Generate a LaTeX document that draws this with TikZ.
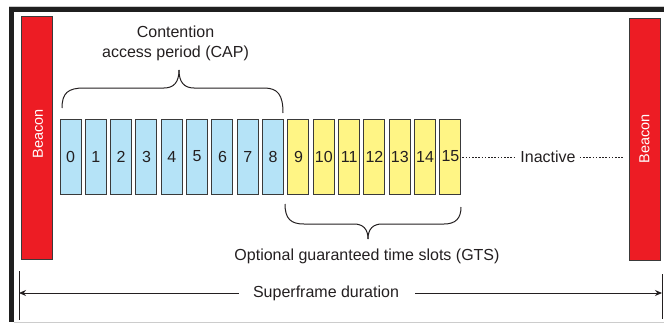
\documentclass[tikz,border=0pt]{standalone}
\usepackage{fontspec}
\setmainfont{Liberation Sans}
\usetikzlibrary{arrows.meta}
\definecolor{bred}{HTML}{ED1C24}
\definecolor{bblue}{HTML}{B5E3F7}
\definecolor{byel}{HTML}{FFF585}
\definecolor{edgec}{HTML}{3A3A3A}
\definecolor{ink}{HTML}{231F20}
\begin{document}
\begin{tikzpicture}[x=1pt,y=-1pt,
  font=\fontsize{16}{20}\selectfont, text=ink,
  beaconbox/.style={draw=edgec, line width=1pt, fill=bred, minimum width=31pt, minimum height=243pt, inner sep=0pt},
  beacontext/.style={rotate=90, text=white, font=\fontsize{14.5}{16}\selectfont, inner sep=0pt},
  slotbox/.style={draw=edgec, line width=1pt, minimum width=21pt, minimum height=75pt, inner sep=0pt},
  bracec/.style={draw=ink, line width=1pt},
  dotline/.style={draw=ink, line width=1pt, dash pattern=on 1.6pt off 1.6pt},
  dimline/.style={draw=ink, line width=1pt},
  dimarrow/.style={draw=ink, line width=1pt, -{Stealth[length=7pt,width=6pt]}}
]
\useasboundingbox (0,0) rectangle (664,324);
% frame
\fill[gray!40] (9,5.5) rectangle (664,7);
\fill[black!88] (9,7) rectangle (664,12);
\fill[black!88] (9,7) rectangle (14,322);
\fill[gray!40] (14,321.5) rectangle (664,323);
% beacons
\node[beaconbox] (b1) at (36.5,137.5) {};
\node[beacontext] (b1t) at (38,134) {Beacon};
\node[beaconbox, minimum height=242pt] (b2) at (644.5,139) {};
\node[beacontext] (b2t) at (644.5,139) {Beacon};
% slots
\foreach \i in {0,...,15}{
  \pgfmathsetmacro{\xc}{70.5+25.33*\i}
  \ifnum\i<9
    \node[slotbox, fill=bblue] (s\i) at (\xc,156.5) {\i};
  \else
    \node[slotbox, fill=byel] (s\i) at (\xc,156.5) {\i};
  \fi
}
% inactive
\node[inner sep=0pt] (inact) at (548,157) {Inactive};
\draw[dotline] ([xshift=1pt]s15.east |- inact.west) -- ([xshift=-4pt]inact.west);
\draw[dotline] ([xshift=4pt]inact.east) -- ([xshift=-4pt]b2.west |- inact.east);
% CAP brace
\node[align=center, inner sep=0pt] (cap) at (175.5,43) {Contention\\access period (CAP)};
\coordinate (capl) at (62,108);
\coordinate (capt) at (179,70);
\coordinate (capr) at (283,113);
\draw[bracec] (capl) .. controls (62,93) and (68,88) .. (84,88) -- (164,88) .. controls (174,88) and (179,82) .. (capt);
\draw[bracec] (capt) .. controls (179,82) and (184,88) .. (194,88) -- (264,88) .. controls (278,88) and (283,95) .. (capr);
% GTS brace
\node[inner sep=0pt] (gts) at (367,256) {Optional guaranteed time slots (GTS)};
\coordinate (gtsl) at (285,204);
\coordinate (gtst) at (368,239);
\coordinate (gtsr) at (461,207);
\draw[bracec] (gtsl) .. controls (285,219) and (291,224) .. (304,224) -- (354,224) .. controls (363,224) and (368,229) .. (gtst);
\draw[bracec] (gtst) .. controls (368,229) and (373,224) .. (382,224) -- (444,224) .. controls (456,224) and (461,218) .. (gtsr);
% superframe
\coordinate (lt) at (19,271);
\coordinate (lb) at (19,320);
\coordinate (rt) at (662,274);
\coordinate (rb) at (662,319);
\coordinate (la) at (19,293);
\coordinate (ra) at (662,293);
\draw[dimline] (lt) -- (lb);
\draw[dimline] (rt) -- (rb);
\node[inner sep=0pt] (sf) at (326,293) {Superframe duration};
\draw[dimarrow] ([xshift=-14pt]sf.west) -- (la);
\draw[dimarrow] ([xshift=16pt]sf.east) -- (ra);
\end{tikzpicture}
\end{document}
